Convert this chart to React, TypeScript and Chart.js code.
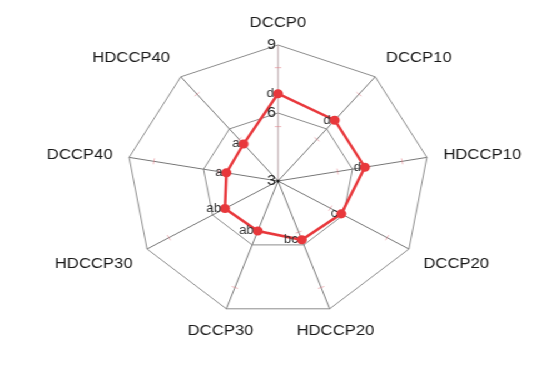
import React, { useEffect, useRef } from "react";
import { Chart, registerables } from "chart.js";

Chart.register(...registerables);

const categories = ["DCCP0", "DCCP10", "HDCCP10", "DCCP20", "HDCCP20", "DCCP30", "HDCCP30", "DCCP40", "HDCCP40"];
const values = [6.85, 6.5, 6.5, 5.9, 5.76, 5.35, 5.43, 5.08, 5.13];
const letters = ["d", "d", "d", "c", "bc", "ab", "ab", "a", "a"];
const tickValues = [3, 6, 9];
const minorTickValues = [5.4, 8.0];

const STRETCH = 1.112;
const W = 495;
const H = 374;
const FONT = '"Liberation Sans", Arial, sans-serif';
const RED = "rgb(232,56,60)";

const overlay = {
  id: "overlay",
  beforeDatasetsDraw(chart: any) {
    const scale = chart.scales.r;
    const ctx = chart.ctx;
    ctx.save();
    ctx.strokeStyle = "rgba(225,120,130,0.5)";
    ctx.lineWidth = 1;
    for (let i = 0; i < categories.length; i++) {
      const a = scale.getIndexAngle(i) - Math.PI / 2;
      const px = -Math.sin(a);
      const py = Math.cos(a);
      for (const v of minorTickValues) {
        const p = scale.getPointPosition(i, scale.getDistanceFromCenterForValue(v));
        ctx.beginPath();
        ctx.moveTo(p.x - px * 3, p.y - py * 3);
        ctx.lineTo(p.x + px * 3, p.y + py * 3);
        ctx.stroke();
      }
    }
    ctx.restore();
  },
  afterDatasetsDraw(chart: any) {
    const scale = chart.scales.r;
    const ctx = chart.ctx;
    ctx.save();
    // category labels
    ctx.font = `15px ${FONT}`;
    ctx.fillStyle = "#1a1a1a";
    ctx.textBaseline = "middle";
    for (let i = 0; i < categories.length; i++) {
      const ang = scale.getIndexAngle(i);
      const s = Math.sin(ang);
      const c = Math.cos(ang);
      const p = scale.getPointPosition(i, scale.drawingArea + 15);
      ctx.textAlign = Math.abs(s) < 0.5 ? "center" : s > 0 ? "left" : "right";
      const dy = c > 0.3 ? -7.5 : c < -0.3 ? 7.5 : 0;
      ctx.fillText(categories[i], p.x, p.y + dy);
    }
    // tick labels
    ctx.font = `14px ${FONT}`;
    ctx.fillStyle = "#222";
    ctx.textAlign = "right";
    for (const v of tickValues) {
      const d = scale.getDistanceFromCenterForValue(v);
      ctx.fillText(String(v), scale.xCenter - 2, scale.yCenter - d);
    }
    // center dot
    ctx.fillStyle = "#222";
    ctx.beginPath();
    ctx.arc(scale.xCenter, scale.yCenter, 1.5, 0, Math.PI * 2);
    ctx.fill();
    // significance letters
    const meta = chart.getDatasetMeta(0);
    ctx.font = `12px ${FONT}`;
    ctx.fillStyle = "#333";
    ctx.textAlign = "right";
    meta.data.forEach((pt: any, i: number) => {
      ctx.fillText(letters[i], pt.x - 3.5, pt.y);
    });
    ctx.restore();
  },
};

export default function App() {
  const ref = useRef<HTMLCanvasElement | null>(null);
  useEffect(() => {
    if (!ref.current) return;
    const chart = new Chart(ref.current, {
      type: "radar",
      data: {
        labels: categories,
        datasets: [
          {
            data: values,
            borderColor: RED,
            backgroundColor: RED,
            borderWidth: 2.5,
            pointBackgroundColor: RED,
            pointBorderColor: RED,
            pointRadius: 3.3,
            fill: false,
          },
        ],
      },
      options: {
        animation: false,
        responsive: true,
        maintainAspectRatio: false,
        layout: { padding: { top: 45, bottom: 56, left: 100, right: 95 } },
        plugins: { legend: { display: false }, tooltip: { enabled: false } },
        scales: {
          r: {
            min: 3,
            max: 9,
            ticks: { stepSize: 3, display: false },
            grid: { color: "#8c8c8c", lineWidth: 1, circular: false },
            angleLines: {
              color: (ctx: any) => (ctx.index === 0 ? "#b39da0" : "#777"),
              lineWidth: 1,
            },
            pointLabels: { display: false },
          },
        },
      },
      plugins: [overlay],
    });
    return () => chart.destroy();
  }, []);
  return (
    <div
      style={{
        position: "absolute",
        left: 0,
        top: 0,
        width: W,
        height: H,
        transform: `scaleX(${STRETCH})`,
        transformOrigin: "0 0",
        background: "#fff",
      }}
    >
      <canvas ref={ref} />
    </div>
  );
}
